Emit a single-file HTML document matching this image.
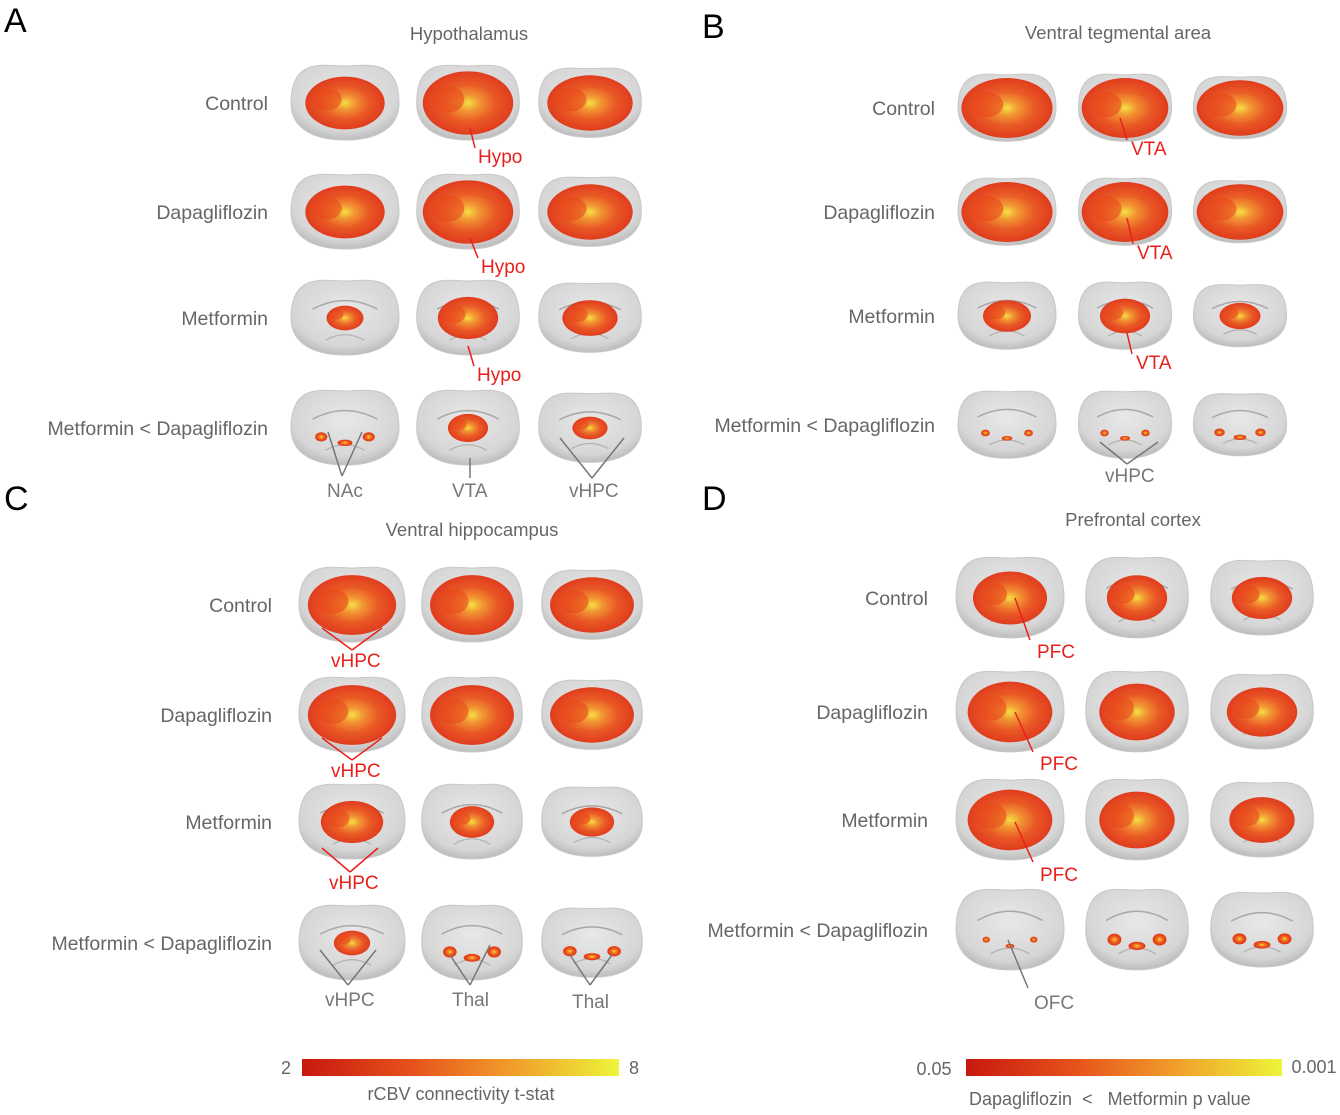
<!DOCTYPE html>
<html><head><meta charset="utf-8"><style>
body{margin:0;background:#fff;width:1340px;height:1110px;overflow:hidden;font-family:"Liberation Sans",sans-serif}
svg text{font-family:"Liberation Sans",sans-serif}
</style></head><body>
<svg id="fig" width="1340" height="1110" viewBox="0 0 1340 1110" xmlns="http://www.w3.org/2000/svg">
<defs>
<radialGradient id="act" cx="50%" cy="50%" r="50%">
<stop offset="0" stop-color="#f6e03a"/><stop offset="0.25" stop-color="#f2922a"/><stop offset="0.6" stop-color="#ea521c"/><stop offset="1" stop-color="#e03414"/></radialGradient>
<radialGradient id="gray" cx="50%" cy="40%" r="60%">
<stop offset="0" stop-color="#e8e8e8"/><stop offset="0.8" stop-color="#d6d6d6"/><stop offset="1" stop-color="#bdbdbd"/></radialGradient>
<linearGradient id="cbar" x1="0" x2="1" y1="0" y2="0">
<stop offset="0" stop-color="#c8180f"/><stop offset="0.35" stop-color="#e6531b"/><stop offset="0.65" stop-color="#f09a2a"/><stop offset="1" stop-color="#eef53a"/></linearGradient>
</defs>
<g id="layer"></g>
</svg>
<script>
// Activation coverage (0-1) per panel: rows = groups, cols = slices
const coverageA = [[0.75,0.9,0.85],[0.75,0.9,0.85],[0.35,0.6,0.55],[0.25,0.4,0.35]];
const coverageB = [[0.95,0.95,0.95],[0.95,0.95,0.95],[0.5,0.55,0.45],[0.2,0.2,0.25]];
const coverageC = [[0.85,0.85,0.85],[0.85,0.85,0.85],[0.6,0.45,0.45],[0.35,0.3,0.3]];
const coverageD = [[0.7,0.6,0.6],[0.8,0.75,0.7],[0.8,0.75,0.65],[0.15,0.3,0.3]];
const groups = ["Control","Dapagliflozin","Metformin","Metformin < Dapagliflozin"];

const NS="http://www.w3.org/2000/svg";
const layer=document.getElementById('layer');
function mk(tag,attrs,parent){const e=document.createElementNS(NS,tag);for(const k in attrs)e.setAttribute(k,attrs[k]);(parent||layer).appendChild(e);return e;}
function txt(x,y,s,size,fill,anchor,weight){const t=mk('text',{x:x,y:y,'font-size':size,fill:fill,'text-anchor':anchor||'start','font-weight':weight||'normal'});t.textContent=s;return t;}

const panels=[
 {id:'a',letter:'A',lx:4,ly:32,title:'Hypothalamus',tx:469,ty:40,cols:[345,468,590],rows:[103,212,318,428],labelX:268,w:108,h:78,cov:coverageA},
 {id:'b',letter:'B',lx:702,ly:38,title:'Ventral tegmental area',tx:1118,ty:39,cols:[1007,1125,1240],rows:[108,212,316,425],labelX:935,w:98,h:70,cov:coverageB},
 {id:'c',letter:'C',lx:4,ly:510,title:'Ventral hippocampus',tx:472,ty:536,cols:[352,472,592],rows:[605,715,822,943],labelX:272,w:106,h:78,cov:coverageC},
 {id:'d',letter:'D',lx:702,ly:510,title:'Prefrontal cortex',tx:1133,ty:526,cols:[1010,1137,1262],rows:[598,712,820,930],labelX:928,w:108,h:84,cov:coverageD}
];

panels.forEach(p=>{
  const g=mk('g',{});
  
  
  const L=txt(p.lx,p.ly,p.letter,34,'#000','start');
  
  
  g.appendChild(L);
  const T=txt(p.tx,p.ty,p.title,18.5,'#666','middle');
  
  
  g.appendChild(T);
  p.rows.forEach((cy,ri)=>{
    const lab=txt(p.labelX,cy+7,groups[ri],19.5,'#666','end');
    
    
    g.appendChild(lab);
    p.cols.forEach((cx,ci)=>{
      const b=mk('g',{},g);
      
      
      const w=p.w*(ci==0?1:0.95), h=p.h*(ci==2?0.88:0.95);
      mk('path',{d:`M${cx-w/2} ${cy} C${cx-w/2} ${cy-h*0.62} ${cx-w*0.2} ${cy-h/2} ${cx} ${cy-h/2} C${cx+w*0.2} ${cy-h/2} ${cx+w/2} ${cy-h*0.62} ${cx+w/2} ${cy} C${cx+w/2} ${cy+h*0.38} ${cx+w*0.25} ${cy+h/2} ${cx} ${cy+h/2} C${cx-w*0.25} ${cy+h/2} ${cx-w/2} ${cy+h*0.38} ${cx-w/2} ${cy}Z`,fill:'url(#gray)',stroke:'#c8c8c8','stroke-width':1},b);
      mk('path',{d:`M${cx-w*0.3} ${cy-h*0.12} Q${cx} ${cy-h*0.35} ${cx+w*0.3} ${cy-h*0.12}`,fill:'none',stroke:'#a8a8a8','stroke-width':1.5},b);
      mk('path',{d:`M${cx-w*0.18} ${cy+h*0.3} Q${cx} ${cy+h*0.15} ${cx+w*0.18} ${cy+h*0.3}`,fill:'none',stroke:'#b0b0b0','stroke-width':1.2},b);
      const c=p.cov[ri][ci];
      if(c>0.3){
        mk('ellipse',{cx:cx,cy:cy,rx:w/2*c*0.98,ry:h/2*c*0.95,fill:'url(#act)',opacity:0.95},b);
        mk('ellipse',{cx:cx-w*0.22*c,cy:cy-h*0.05,rx:w*0.18*c,ry:h*0.2*c,fill:'#e8481a',opacity:0.6},b);
      } else {
        mk('ellipse',{cx:cx-w*0.22,cy:cy+h*0.12,rx:w*0.5*c*0.45,ry:h*0.5*c*0.5,fill:'url(#act)'},b);
        mk('ellipse',{cx:cx+w*0.22,cy:cy+h*0.12,rx:w*0.5*c*0.45,ry:h*0.5*c*0.5,fill:'url(#act)'},b);
        mk('ellipse',{cx:cx,cy:cy+h*0.2,rx:w*0.5*c*0.55,ry:h*0.5*c*0.35,fill:'url(#act)'},b);
      }
    });
  });
});

// annotations: label, text x, text y, colour, line(s)
const annotations=[
 ['Hypo',478,163,'#e8201c',[[470,128,475,148]]],['Hypo',481,273,'#e8201c',[[470,238,478,258]]],['Hypo',477,381,'#e8201c',[[468,346,474,366]]],
 ['VTA',1131,155,'#e8201c',[[1120,118,1127,140]]],['VTA',1137,259,'#e8201c',[[1127,218,1133,244]]],['VTA',1136,369,'#e8201c',[[1127,333,1132,354]]],
 ['vHPC',331,667,'#e8201c',[[322,628,352,650],[382,628,352,650]]],['vHPC',331,777,'#e8201c',[[322,738,352,760],[382,738,352,760]]],['vHPC',329,889,'#e8201c',[[322,848,350,872],[378,848,350,872]]],
 ['PFC',1037,658,'#e8201c',[[1015,598,1030,640]]],['PFC',1040,770,'#e8201c',[[1015,712,1033,752]]],['PFC',1040,881,'#e8201c',[[1015,822,1033,862]]],
 ['NAc',327,497,'#777',[[328,432,342,476],[362,432,342,476]]],['VTA',452,497,'#777',[[470,458,470,478]]],['vHPC',569,497,'#777',[[560,438,592,478],[624,438,592,478]]],
 ['vHPC',1105,482,'#777',[[1100,442,1127,464],[1158,442,1127,464]]],['vHPC',325,1006,'#777',[[320,950,348,985],[376,950,348,985]]],['Thal',452,1006,'#777',[[450,955,470,985],[490,945,470,985]]],
 ['Thal',572,1008,'#777',[[570,955,590,985],[612,955,590,985]]],['OFC',1034,1009,'#777',[[1008,940,1028,988]]]
];
annotations.forEach((a,i)=>{
  a[4].forEach((l,j)=>{
    const ln=mk('line',{x1:l[0],y1:l[1],x2:l[2],y2:l[3],stroke:a[3],'stroke-width':1.5});
    
    
  });
  const t=txt(a[1],a[2],a[0],19,a[3],'start');
  
  
});

// colorbars
const cb1=mk('rect',{x:302,y:1059,width:317,height:17,fill:'url(#cbar)'});


const cb2=mk('rect',{x:966,y:1059,width:316,height:17,fill:'url(#cbar)'});


[[286,1074,'2','middle','cb1-min'],[634,1074,'8','middle','cb1-max'],[461,1100,'rCBV connectivity t-stat','middle','cb1-title'],
 [934,1075,'0.05','middle','cb2-min'],[1314,1073,'0.001','middle','cb2-max'],[969,1105,'Dapagliflozin  <   Metformin p value','start','cb2-title']].forEach(d=>{
  const t=txt(d[0],d[1],d[2],18,'#666',d[3]);
  
  
  t.style.whiteSpace='pre';
});
</script>
</body></html>
